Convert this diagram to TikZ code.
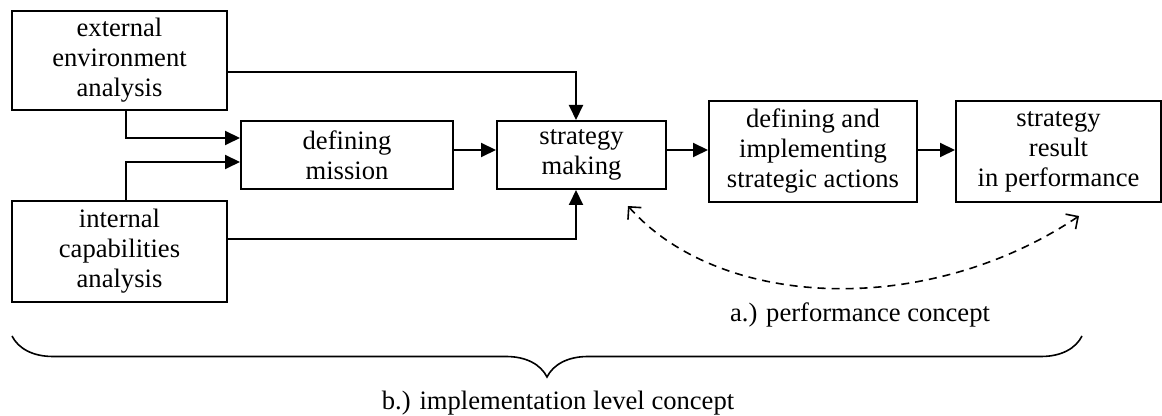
\documentclass[tikz,border=0pt]{standalone}
\usepackage{fontspec}
\setmainfont{Liberation Serif}
\usetikzlibrary{arrows.meta,decorations.pathreplacing}

\begin{document}
\begin{tikzpicture}[
  x=0.5pt, y=-0.5pt,
  box/.style={draw, line width=1pt, align=center, inner sep=0pt,
    font=\fontsize{13.3}{15}\selectfont},
  flow/.style={line width=1pt, -{Triangle[length=7.5pt,width=7pt]}},
  perf/.style={line width=0.8pt, dash pattern=on 4pt off 3pt,
    {Straight Barb[length=4.5pt,width=9pt]}-{Straight Barb[length=4.5pt,width=9pt]}},
  lbl/.style={font=\fontsize{13.3}{15}\selectfont},
]
\useasboundingbox (0,0) rectangle (1162,416);

% helper rows and columns
\coordinate (stem) at (126,0);
\coordinate (drop) at (576,0);
\coordinate (toprow) at (0,72);
\coordinate (upin) at (0,138);
\coordinate (midrow) at (0,150);
\coordinate (lowin) at (0,162);
\coordinate (botrow) at (0,239);

\node [box, minimum width=107.5pt, minimum height=49.5pt] (ext) at (119.5,60.5) {external\\environment\\analysis};
\node [box, minimum width=107.5pt, minimum height=50.5pt] (int) at (119.5,251.5) {internal\\capabilities\\analysis};
\node [box, minimum width=106pt, minimum height=34pt] (mission) at (347,155) {defining\\mission};
\node [box, minimum width=84.5pt, minimum height=34pt] (making) at (581.5,155) {strategy\\making};
\node [box, minimum width=104pt, minimum height=50.5pt] (actions) at (813,151.5) {defining and\\implementing\\strategic actions};
\node [box, minimum width=102.5pt, minimum height=50.5pt] (result) at (1058.5,151.5) {strategy\\result\\in performance};

\draw [flow] (ext.east |- toprow) -| (making.north -| drop);
\draw [flow] (ext.south -| stem) |- (mission.west |- upin);
\draw [flow] (int.north -| stem) |- (mission.west |- lowin);
\draw [flow] (int.east |- botrow) -| (making.south -| drop);
\draw [flow] (mission.east |- midrow) -- (making.west |- midrow);
\draw [flow] (making.east |- midrow) -- (actions.west |- midrow);
\draw [flow] (actions.east |- midrow) -- (result.west |- midrow);

% performance loop
\coordinate (perfA) at (628,206);
\coordinate (perfB) at (1079,216);
\draw [perf] (perfA) .. controls (720,310) and (927,318) .. (perfB);
\node [lbl] (perflabel) at (860,315) {a.) performance concept};

% implementation brace
\coordinate (braceL) at (12,336);
\coordinate (braceR) at (1082,336);
\draw [decorate, decoration={brace, mirror, amplitude=20.5pt}, line width=0.8pt] (braceL) -- (braceR);
\node [lbl] (impllabel) at (558,403) {b.) implementation level concept};

\end{tikzpicture}
\end{document}
